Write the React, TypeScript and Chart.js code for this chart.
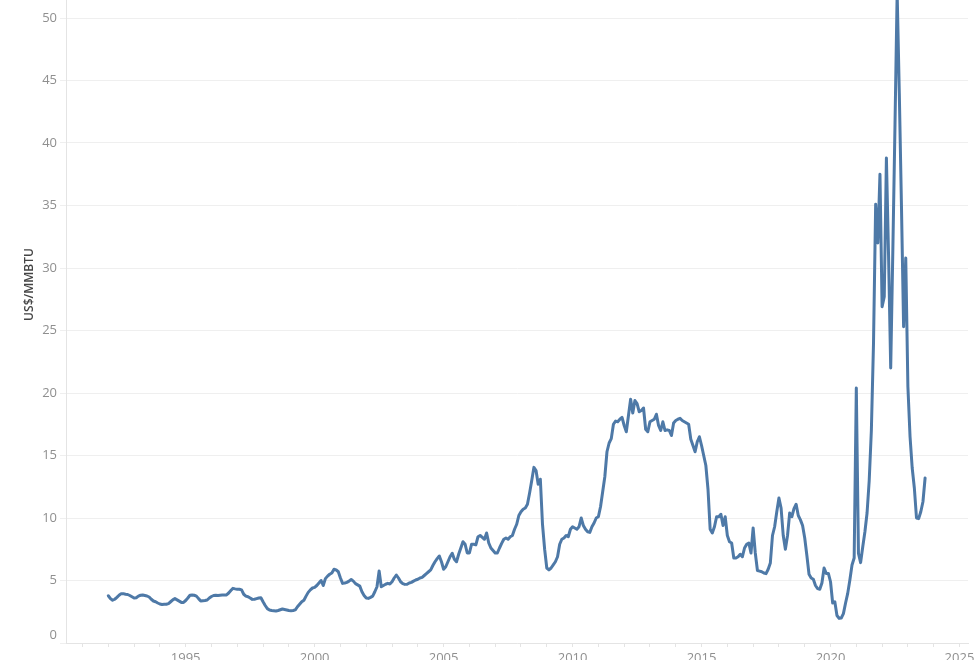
import React, { useEffect, useRef } from "react";
import { Chart, registerables } from "chart.js";

Chart.register(...registerables);

// Monthly price, US$/MMBTU, starting January 1992
const START_YEAR = 1992;

const prices1992to1999 = [
  3.78, 3.55, 3.42, 3.5, 3.65, 3.82, 3.95, 3.95, 3.9, 3.88, 3.8, 3.7,
  3.6, 3.62, 3.75, 3.82, 3.84, 3.8, 3.76, 3.68, 3.5, 3.36, 3.3, 3.2,
  3.12, 3.08, 3.1, 3.1, 3.15, 3.3, 3.45, 3.55, 3.45, 3.35, 3.25, 3.25,
  3.4, 3.6, 3.82, 3.84, 3.82, 3.75, 3.55, 3.36, 3.38, 3.4, 3.44, 3.6,
  3.72, 3.8, 3.82, 3.8, 3.82, 3.84, 3.85, 3.85, 4.0, 4.2, 4.37, 4.33,
  4.3, 4.3, 4.25, 3.9, 3.75, 3.7, 3.6, 3.49, 3.5, 3.55, 3.6, 3.62,
  3.3, 3.0, 2.75, 2.64, 2.6, 2.58, 2.56, 2.6, 2.66, 2.72, 2.68, 2.64,
  2.6, 2.58, 2.6, 2.65, 2.9, 3.1, 3.3, 3.42, 3.75, 4.05, 4.25, 4.4,
];

const prices2000to2009 = [
  4.45, 4.6, 4.8, 5.0, 4.6, 5.15, 5.35, 5.5, 5.6, 5.9, 5.85, 5.7,
  5.2, 4.77, 4.8, 4.85, 4.95, 5.08, 4.95, 4.75, 4.65, 4.55, 4.1, 3.8,
  3.6, 3.57, 3.65, 3.75, 4.1, 4.5, 5.76, 4.5, 4.6, 4.7, 4.77, 4.72,
  4.9, 5.2, 5.44, 5.2, 4.9, 4.75, 4.69, 4.7, 4.8, 4.85, 4.95, 5.04,
  5.1, 5.2, 5.25, 5.4, 5.55, 5.7, 5.85, 6.2, 6.5, 6.75, 6.96, 6.5,
  5.9, 6.1, 6.5, 6.9, 7.17, 6.7, 6.5, 7.1, 7.6, 8.1, 7.9, 7.2,
  7.2, 7.9, 7.9, 7.85, 8.5, 8.6, 8.45, 8.3, 8.8, 8.0, 7.6, 7.4,
  7.2, 7.2, 7.6, 7.97, 8.3, 8.4, 8.3, 8.5, 8.6, 9.1, 9.5, 10.2,
  10.5, 10.7, 10.8, 11.1, 12.0, 13.0, 14.05, 13.8, 12.7, 13.1, 9.5, 7.5,
  6.0, 5.85, 6.0, 6.25, 6.5, 6.9, 7.9, 8.3, 8.4, 8.6, 8.5, 9.1,
];

const prices2010to2019 = [
  9.3, 9.2, 9.1, 9.3, 10.0, 9.4, 9.1, 8.9, 8.85, 9.3, 9.6, 10.0,
  10.1, 10.9, 12.1, 13.3, 15.3, 16.0, 16.35, 17.5, 17.75, 17.7, 17.9, 18.05,
  17.4, 16.9, 18.2, 19.5, 18.4, 19.4, 19.15, 18.5, 18.6, 18.8, 17.1, 16.9,
  17.7, 17.8, 17.9, 18.3, 17.4, 17.0, 17.7, 17.0, 17.05, 17.0, 16.6, 17.6,
  17.8, 17.9, 17.97, 17.8, 17.7, 17.6, 17.5, 16.3, 15.8, 15.3, 16.1, 16.5,
  15.8, 15.0, 14.2, 12.3, 9.1, 8.8, 9.3, 10.1, 10.1, 10.3, 9.4, 10.1,
  8.6, 8.1, 8.0, 6.8, 6.8, 6.9, 7.1, 6.9, 7.6, 7.9, 8.0, 7.2,
  9.2, 7.2, 5.8, 5.75, 5.7, 5.6, 5.55, 5.9, 6.4, 8.6, 9.3, 10.5,
  11.6, 10.8, 8.6, 7.5, 8.6, 10.4, 10.1, 10.75, 11.1, 10.2, 9.85, 9.4,
  8.4, 7.0, 5.5, 5.2, 5.1, 4.6, 4.35, 4.3, 4.8, 6.0, 5.57, 5.57,
];

const prices2020to2023 = [
  4.9, 3.2, 3.3, 2.2, 1.97, 2.0, 2.35, 3.2, 3.97, 5.04, 6.24, 6.8,
  20.4, 7.17, 6.43, 7.7, 8.9, 10.4, 13.0, 17.0, 24.0, 35.1, 32.0, 37.5,
  26.9, 27.7, 38.8, 31.0, 22.0, 31.5, 41.5, 52.0, 44.0, 35.0, 25.3, 30.8,
  20.5, 16.5, 14.0, 12.4, 10.0, 9.95, 10.5, 11.3, 13.2,
];

const yTickValues = [0, 5, 10, 15, 20, 25, 30, 35, 40, 45, 50, 55];
const xLabelYears = [1995, 2000, 2005, 2010, 2015, 2020, 2025];
const FIRST_TICK_YEAR = 1991;
const LAST_TICK_YEAR = 2025;
const Y_TITLE = "US$/MMBTU";

const LINE_COLOR = "#4e79a7";
const GRID_COLOR = "#efefef";
const AXIS_COLOR = "#e4e4e4";
const TICK_TEXT = "#8f8f8f";
const FONT = "'Open Sans', 'Noto Sans', sans-serif";

export default function App() {
  const canvasRef = useRef<HTMLCanvasElement | null>(null);

  useEffect(() => {
    const canvas = canvasRef.current;
    if (!canvas) return;
    const all = [
      ...prices1992to1999,
      ...prices2000to2009,
      ...prices2010to2019,
      ...prices2020to2023,
    ];
    const points = all.map((v, i) => ({ x: START_YEAR + i / 12, y: v }));
    const yearTicks: number[] = [];
    for (let y = FIRST_TICK_YEAR; y <= LAST_TICK_YEAR; y++) yearTicks.push(y);

    const chart = new Chart(canvas, {
      type: "line",
      data: {
        datasets: [
          {
            data: points,
            borderColor: LINE_COLOR,
            borderWidth: 3,
            pointRadius: 0,
            tension: 0,
            borderJoinStyle: "round",
            borderCapStyle: "round",
            fill: false,
          },
        ],
      },
      options: {
        responsive: false,
        animation: false,
        layout: { padding: { top: 12, right: 12, left: 0, bottom: 0 } },
        plugins: {
          legend: { display: false },
          tooltip: { enabled: false },
        },
        scales: {
          x: {
            type: "linear",
            min: 1990.36,
            max: 2025.33,
            afterBuildTicks: (scale: any) => {
              scale.ticks = yearTicks.map((v) => ({ value: v }));
            },
            afterFit: (scale: any) => {
              scale.height = 37;
            },
            grid: {
              display: true,
              drawOnChartArea: false,
              drawTicks: true,
              tickLength: 4,
              color: AXIS_COLOR,
            },
            border: { display: true, color: AXIS_COLOR, width: 1 },
            ticks: {
              autoSkip: false,
              maxRotation: 0,
              padding: 3,
              color: TICK_TEXT,
              font: { family: FONT, size: 13 },
              callback: (v: any) =>
                xLabelYears.includes(Number(v)) ? String(v) : "",
            },
          },
          y: {
            type: "linear",
            min: 0,
            max: 57.36,
            afterBuildTicks: (scale: any) => {
              scale.ticks = yTickValues.map((v) => ({ value: v }));
            },
            afterFit: (scale: any) => {
              scale.width = 66;
            },
            grid: {
              color: GRID_COLOR,
              drawTicks: true,
              tickLength: 6,
            },
            border: { display: true, color: AXIS_COLOR, width: 1 },
            ticks: {
              padding: 3,
              color: TICK_TEXT,
              font: { family: FONT, size: 13 },
              callback: (v: any) => (Number(v) === 0 ? ["0", ""] : String(v)),
            },
            title: {
              display: true,
              text: Y_TITLE,
              color: "#444",
              font: { family: FONT, size: 12, weight: "600" },
              padding: { top: 22, bottom: 0 },
            },
          },
        },
      },
    });
    return () => chart.destroy();
  }, []);

  return (
    <div
      style={{
        position: "absolute",
        left: 0,
        top: -86,
        width: 980,
        height: 766,
        background: "#fff",
      }}
    >
      <canvas
        ref={canvasRef}
        width={980}
        height={766}
        style={{ display: "block", width: 980, height: 766 }}
      />
    </div>
  );
}
